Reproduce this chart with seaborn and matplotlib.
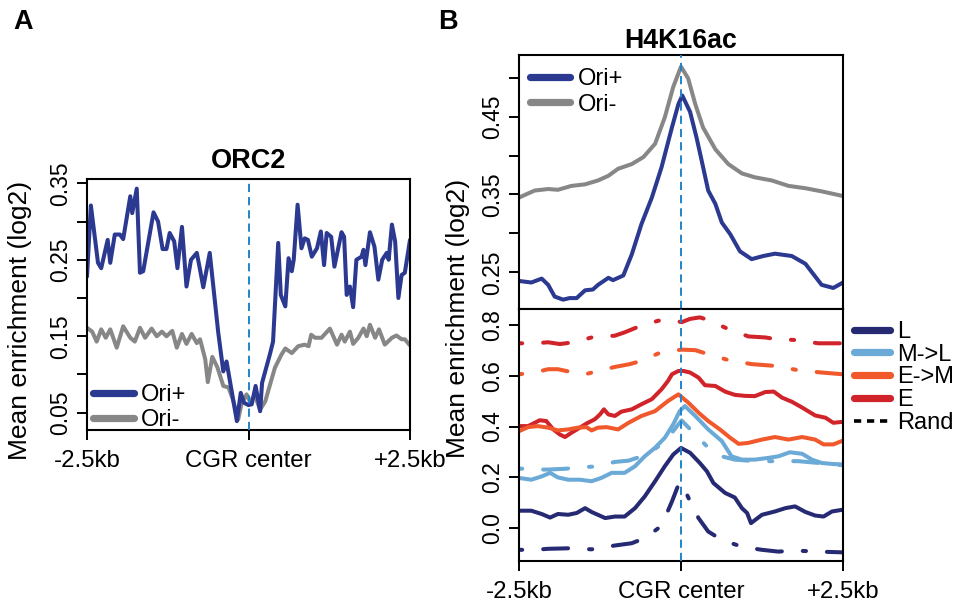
import numpy as np
import pandas as pd
import matplotlib.pyplot as plt
import seaborn as sns
from matplotlib.lines import Line2D

sns.set_style("ticks", rc={
    "axes.edgecolor": "black",
    "axes.linewidth": 1.5,
    "xtick.color": "black",
    "ytick.color": "black",
    "text.color": "black",
    "axes.labelcolor": "black",
})
plt.rcParams["font.family"] = ["Liberation Sans", "DejaVu Sans"]

# ---- Panel A: ORC2 (x in kb from CGR center) ----
orc2_plus_x = [-2.50, -2.44, -2.33, -2.28, -2.18, -2.14, -2.07, -1.99, -1.94, -1.83,
               -1.80, -1.73, -1.68, -1.63, -1.47, -1.40, -1.33, -1.27, -1.22, -1.15,
               -1.10, -1.03, -0.96, -0.89, -0.80, -0.75, -0.70, -0.60, -0.47, -0.39,
               -0.34, -0.26, -0.18, -0.12, -0.07, 0.00, 0.05, 0.11, 0.18, 0.21,
               0.33, 0.38, 0.46, 0.50, 0.57, 0.62, 0.67, 0.70, 0.76, 0.82,
               0.87, 0.92, 0.98, 1.06, 1.12, 1.17, 1.21, 1.28, 1.33, 1.44,
               1.48, 1.52, 1.57, 1.62, 1.67, 1.75, 1.78, 1.81, 1.88, 1.95,
               2.01, 2.07, 2.14, 2.17, 2.22, 2.27, 2.32, 2.37, 2.42, 2.50]
orc2_plus_y = [0.228, 0.321, 0.246, 0.239, 0.276, 0.246, 0.283, 0.283, 0.277, 0.333,
               0.311, 0.343, 0.233, 0.235, 0.312, 0.300, 0.264, 0.264, 0.285, 0.274,
               0.239, 0.293, 0.215, 0.250, 0.259, 0.237, 0.214, 0.259, 0.156, 0.104,
               0.117, 0.078, 0.039, 0.076, 0.063, 0.060, 0.061, 0.085, 0.052, 0.089,
               0.126, 0.143, 0.272, 0.204, 0.189, 0.252, 0.235, 0.250, 0.322, 0.265,
               0.278, 0.276, 0.254, 0.265, 0.287, 0.243, 0.285, 0.280, 0.241, 0.286,
               0.280, 0.204, 0.215, 0.188, 0.250, 0.254, 0.263, 0.243, 0.286, 0.267,
               0.224, 0.250, 0.259, 0.250, 0.296, 0.274, 0.200, 0.230, 0.233, 0.276]

orc2_minus_x = [-2.50, -2.42, -2.35, -2.28, -2.21, -2.14, -2.04, -1.94, -1.83, -1.76,
                -1.68, -1.60, -1.50, -1.42, -1.34, -1.27, -1.18, -1.11, -1.03, -0.96,
                -0.88, -0.80, -0.75, -0.67, -0.63, -0.56, -0.48, -0.39, -0.31, -0.24,
                -0.16, -0.11, -0.03, 0.02, 0.10, 0.18, 0.26, 0.31, 0.41, 0.51,
                0.57, 0.67, 0.77, 0.87, 0.93, 0.97, 1.03, 1.13, 1.26, 1.37,
                1.44, 1.49, 1.57, 1.62, 1.70, 1.78, 1.83, 1.88, 1.96, 2.02,
                2.11, 2.22, 2.29, 2.37, 2.42, 2.50]
orc2_minus_y = [0.161, 0.156, 0.143, 0.159, 0.148, 0.159, 0.135, 0.163, 0.148, 0.143,
                0.161, 0.148, 0.160, 0.150, 0.156, 0.150, 0.157, 0.135, 0.153, 0.140,
                0.153, 0.141, 0.146, 0.120, 0.090, 0.123, 0.109, 0.085, 0.083, 0.067,
                0.041, 0.061, 0.074, 0.065, 0.072, 0.054, 0.065, 0.080, 0.109, 0.126,
                0.134, 0.128, 0.137, 0.139, 0.137, 0.152, 0.148, 0.148, 0.160, 0.139,
                0.152, 0.143, 0.156, 0.140, 0.148, 0.160, 0.150, 0.165, 0.148, 0.159,
                0.139, 0.148, 0.151, 0.146, 0.146, 0.138]

# ---- Panel B top: H4K16ac Ori+/Ori- ----
h4_plus_x = [-2.50, -2.31, -2.15, -2.05, -1.95, -1.82, -1.72, -1.61, -1.48, -1.36,
             -1.28, -1.12, -1.05, -0.89, -0.76, -0.61, -0.45, -0.30, -0.14, -0.04,
             0.02, 0.14, 0.24, 0.32, 0.42, 0.53, 0.63, 0.76, 0.91, 1.09,
             1.27, 1.45, 1.71, 1.92, 2.17, 2.35, 2.50]
h4_plus_y = [0.239, 0.237, 0.242, 0.234, 0.219, 0.215, 0.217, 0.217, 0.227, 0.228,
             0.234, 0.243, 0.240, 0.246, 0.273, 0.312, 0.346, 0.385, 0.436, 0.466,
             0.477, 0.456, 0.423, 0.393, 0.355, 0.338, 0.314, 0.299, 0.277, 0.267,
             0.271, 0.274, 0.271, 0.261, 0.234, 0.230, 0.237]

h4_minus_x = [-2.50, -2.26, -2.05, -1.90, -1.69, -1.48, -1.28, -1.12, -0.97, -0.76,
              -0.58, -0.40, -0.25, -0.12, 0.00, 0.11, 0.22, 0.34, 0.53, 0.73,
              0.94, 1.14, 1.40, 1.66, 1.92, 2.17, 2.50]
h4_minus_y = [0.346, 0.355, 0.357, 0.356, 0.361, 0.363, 0.368, 0.374, 0.383, 0.389,
              0.398, 0.415, 0.449, 0.488, 0.514, 0.499, 0.466, 0.436, 0.408, 0.389,
              0.377, 0.372, 0.368, 0.361, 0.358, 0.354, 0.348]

# ---- Panel B bottom: replication timing groups ----
e_x = [-2.50, -2.36, -2.18, -2.08, -1.97, -1.87, -1.79, -1.69, -1.56, -1.46,
       -1.33, -1.25, -1.19, -1.12, -1.02, -0.92, -0.76, -0.61, -0.45, -0.30,
       -0.20, -0.14, -0.04, 0.04, 0.14, 0.27, 0.37, 0.53, 0.68, 0.83,
       0.99, 1.14, 1.30, 1.43, 1.56, 1.71, 1.87, 2.07, 2.23, 2.35, 2.50]
e_y = [0.402, 0.402, 0.425, 0.422, 0.389, 0.369, 0.359, 0.376, 0.396, 0.412,
       0.429, 0.448, 0.468, 0.448, 0.442, 0.459, 0.468, 0.488, 0.508, 0.547,
       0.580, 0.606, 0.619, 0.619, 0.613, 0.593, 0.563, 0.560, 0.538, 0.525,
       0.521, 0.520, 0.536, 0.538, 0.514, 0.498, 0.475, 0.444, 0.435, 0.415, 0.419]

em_x = [-2.50, -2.36, -2.21, -2.05, -1.90, -1.74, -1.59, -1.46, -1.38, -1.28,
        -1.15, -0.97, -0.81, -0.61, -0.40, -0.20, -0.04, 0.11, 0.27, 0.42,
        0.60, 0.76, 0.89, 1.04, 1.25, 1.45, 1.66, 1.87, 2.07, 2.20, 2.35, 2.50]
em_y = [0.382, 0.398, 0.402, 0.396, 0.385, 0.389, 0.396, 0.398, 0.385, 0.396,
        0.398, 0.389, 0.415, 0.442, 0.461, 0.501, 0.527, 0.495, 0.455, 0.422,
        0.389, 0.356, 0.332, 0.336, 0.349, 0.359, 0.349, 0.359, 0.349, 0.330, 0.330, 0.345]

ml_x = [-2.50, -2.31, -2.15, -2.02, -1.90, -1.74, -1.56, -1.38, -1.23, -1.07,
        -0.87, -0.71, -0.56, -0.40, -0.25, -0.12, -0.02, 0.06, 0.22, 0.42,
        0.63, 0.78, 0.94, 1.14, 1.35, 1.50, 1.68, 1.87, 2.02, 2.17, 2.33, 2.50]
ml_y = [0.198, 0.191, 0.204, 0.218, 0.200, 0.191, 0.191, 0.185, 0.198, 0.218,
        0.218, 0.244, 0.283, 0.317, 0.356, 0.409, 0.461, 0.481, 0.442, 0.389,
        0.343, 0.283, 0.270, 0.270, 0.277, 0.283, 0.299, 0.293, 0.270, 0.257, 0.253, 0.251]

l_x = [-2.50, -2.31, -2.15, -2.02, -1.90, -1.74, -1.61, -1.48, -1.38, -1.17,
       -1.02, -0.87, -0.71, -0.56, -0.40, -0.25, -0.12, 0.00, 0.14, 0.29,
       0.40, 0.50, 0.68, 0.83, 0.94, 1.02, 1.08, 1.25, 1.45, 1.61,
       1.76, 1.92, 2.07, 2.20, 2.33, 2.50]
l_y = [0.069, 0.069, 0.056, 0.042, 0.056, 0.053, 0.060, 0.079, 0.064, 0.040,
       0.046, 0.046, 0.079, 0.125, 0.185, 0.244, 0.290, 0.316, 0.297, 0.257,
       0.224, 0.178, 0.139, 0.121, 0.079, 0.060, 0.020, 0.053, 0.066, 0.079,
       0.086, 0.064, 0.050, 0.046, 0.066, 0.073]

# random (control) regions
er_x = [-2.50, -2.26, -2.05, -1.87, -1.66, -1.38, -1.02, -0.87, -0.66, -0.35, -0.14,
        0.01, 0.14, 0.29, 0.42, 0.73, 1.04, 1.30, 1.45, 1.76, 2.12, 2.50]
er_y = [0.728, 0.728, 0.732, 0.725, 0.732, 0.751, 0.758, 0.771, 0.793, 0.817, 0.820,
        0.811, 0.824, 0.830, 0.820, 0.784, 0.755, 0.751, 0.745, 0.741, 0.728, 0.728]

emr_x = [-2.50, -2.26, -2.05, -1.90, -1.66, -1.48, -1.28, -1.02, -0.79, -0.61, -0.35,
         -0.14, 0.01, 0.22, 0.42, 0.73, 1.09, 1.45, 1.81, 2.17, 2.50]
emr_y = [0.606, 0.613, 0.626, 0.626, 0.613, 0.606, 0.619, 0.635, 0.646, 0.659, 0.688,
         0.698, 0.703, 0.701, 0.685, 0.662, 0.646, 0.639, 0.622, 0.613, 0.606]

mlr_x = [-2.50, -2.26, -2.05, -1.79, -1.53, -1.33, -1.02, -0.81, -0.61, -0.45, -0.30, -0.14,
         -0.04, 0.01, 0.11, 0.22, 0.42, 0.63, 0.83, 1.14, 1.50, 1.81, 2.12, 2.50]
mlr_y = [0.235, 0.231, 0.231, 0.234, 0.240, 0.243, 0.261, 0.266, 0.283, 0.303, 0.332, 0.376,
         0.409, 0.424, 0.398, 0.369, 0.317, 0.283, 0.270, 0.264, 0.264, 0.264, 0.257, 0.248]

lr_x = [-2.50, -2.26, -2.05, -1.74, -1.38, -1.02, -0.76, -0.56, -0.35, -0.25, -0.14, -0.04,
        0.01, 0.14, 0.27, 0.42, 0.63, 0.94, 1.25, 1.50, 1.76, 2.12, 2.50]
lr_y = [-0.085, -0.085, -0.081, -0.079, -0.083, -0.068, -0.059, -0.039, 0.000, 0.040, 0.105, 0.171,
        0.180, 0.105, 0.040, -0.013, -0.046, -0.073, -0.085, -0.092, -0.088, -0.092, -0.095]

col_plus = "#2B3990"
col_minus = "#878787"
col_L = "#262A72"
col_ML = "#6BAAD6"
col_EM = "#F1582B"
col_E = "#D1232A"
col_center = "#2283CA"

FS = 16.5
LW = 2.9
DOTDASH = (0, (0.8, 5.2, 6.2, 5.2))


def trace(ax, xs, ys, color, dashed=False):
    df = pd.DataFrame({"x": xs, "y": ys})
    kw = dict(linewidth=LW, solid_joinstyle="round", solid_capstyle="round")
    if dashed:
        kw.update(linestyle=DOTDASH, dash_capstyle="round", dash_joinstyle="round")
    sns.lineplot(data=df, x="x", y="y", ax=ax, color=color, estimator=None,
                 sort=False, legend=False, **kw)
    ax.set_xlabel("")
    ax.set_ylabel("")


def style_axes(ax, xlabels=True):
    ax.set_xlim(-2.5, 2.5)
    for s in ax.spines.values():
        s.set_visible(True)
        s.set_linewidth(1.5)
        s.set_color("black")
    ax.tick_params(axis="both", length=7, width=1.4, labelsize=FS)
    ax.tick_params(axis="y", labelrotation=90, pad=4)
    if xlabels:
        ax.set_xticks([-2.5, 0, 2.5])
        ax.set_xticklabels(["-2.5kb", "CGR center", "+2.5kb"], fontsize=17.3)
        ax.tick_params(axis="x", pad=7.5)
    else:
        ax.set_xticks([])
    for lab in ax.get_yticklabels():
        lab.set_va("center")
    ax.axvline(0, color=col_center, linewidth=1.4, linestyle=(0, (4.2, 2.6)), zorder=5)


fig = plt.figure(figsize=(9.64, 6.05), dpi=100)
W, H = 964, 605
axA = fig.add_axes([87 / W, 1 - 430 / H, 323 / W, 251 / H])
axB1 = fig.add_axes([519 / W, 1 - 309 / H, 324 / W, 254 / H])
axB2 = fig.add_axes([519 / W, 1 - 561 / H, 324 / W, 252 / H])

# Panel A
trace(axA, orc2_minus_x, orc2_minus_y, col_minus)
trace(axA, orc2_plus_x, orc2_plus_y, col_plus)
axA.set_ylim(0.0274, 0.3556)
axA.set_yticks([0.05, 0.10, 0.15, 0.20, 0.25, 0.30, 0.35])
axA.set_yticklabels(["0.05", "", "0.15", "", "0.25", "", "0.35"])
style_axes(axA)

# Panel B top
trace(axB1, h4_minus_x, h4_minus_y, col_minus)
trace(axB1, h4_plus_x, h4_plus_y, col_plus)
axB1.set_ylim(0.203, 0.529)
axB1.set_yticks([0.25, 0.30, 0.35, 0.40, 0.45, 0.50])
axB1.set_yticklabels(["0.25", "", "0.35", "", "0.45", ""])
style_axes(axB1, xlabels=False)

# Panel B bottom
for xs, ys, c in [(er_x, er_y, col_E), (emr_x, emr_y, col_EM),
                  (mlr_x, mlr_y, col_ML), (lr_x, lr_y, col_L)]:
    trace(axB2, xs, ys, c, dashed=True)
for xs, ys, c in [(e_x, e_y, col_E), (em_x, em_y, col_EM),
                  (ml_x, ml_y, col_ML), (l_x, l_y, col_L)]:
    trace(axB2, xs, ys, c)
axB2.set_ylim(-0.129, 0.863)
axB2.set_yticks([0.0, 0.2, 0.4, 0.6, 0.8])
axB2.set_yticklabels(["0.0", "0.2", "0.4", "0.6", "0.8"])
style_axes(axB2)

# legends
def handle(c):
    return Line2D([], [], color=c, linewidth=5.2, solid_capstyle="round")

leg_kw = dict(frameon=False, fontsize=17, handlelength=1.7, handletextpad=0.3,
              borderpad=0, borderaxespad=0, labelspacing=0.135)
axA.legend([handle(col_plus), handle(col_minus)], ["Ori+", "Ori-"],
           loc="lower left", bbox_to_anchor=(0.02, -0.004), **leg_kw)
axB1.legend([handle(col_plus), handle(col_minus)], ["Ori+", "Ori-"],
            loc="upper left", bbox_to_anchor=(0.035, 0.947), **leg_kw)
rand_h = Line2D([], [], color="black", linewidth=2.6, linestyle=(0, (2.0, 1.6)))
leg_kw2 = dict(leg_kw)
leg_kw2.update(labelspacing=0.035, handlelength=1.5)
axB2.legend([handle(col_L), handle(col_ML), handle(col_EM), handle(col_E), rand_h],
            ["L", "M->L", "E->M", "E", "Rand"],
            loc="upper left", bbox_to_anchor=(1.035, 0.953), **leg_kw2)

# titles, labels, panel letters
fig.text(248.5 / W, 1 - 168 / H, "ORC2", ha="center", va="baseline",
         fontsize=19.5, fontweight="bold")
fig.text(681 / W, 1 - 48 / H, "H4K16ac", ha="center", va="baseline",
         fontsize=19.3, fontweight="bold")
fig.text(13 / W, 1 - 29 / H, "A", ha="left", va="baseline", fontsize=19.5, fontweight="bold")
fig.text(438 / W, 1 - 29 / H, "B", ha="left", va="baseline", fontsize=19.5, fontweight="bold")
fig.text(20 / W, 1 - 320 / H, "Mean enrichment (log2)", rotation=90,
         ha="center", va="center", fontsize=19)
fig.text(458 / W, 1 - 318 / H, "Mean enrichment (log2)", rotation=90,
         ha="center", va="center", fontsize=19)

fig.savefig("out.png", dpi=100)
